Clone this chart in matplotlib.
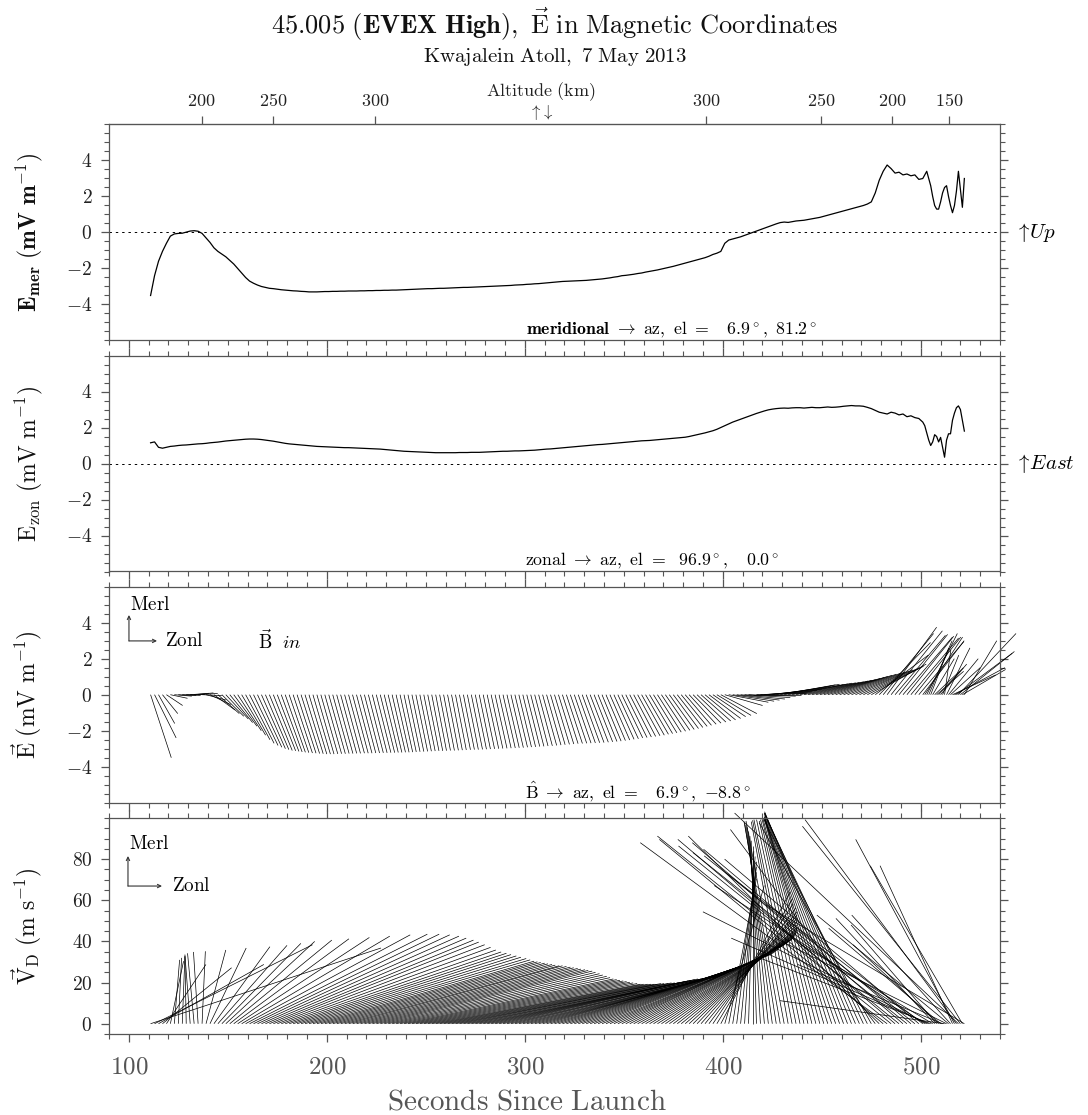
import numpy as np
import matplotlib
matplotlib.use("Agg")
import matplotlib.pyplot as plt
from matplotlib.collections import LineCollection
from matplotlib.ticker import MultipleLocator, FuncFormatter, NullLocator

plt.rcParams['mathtext.fontset'] = 'cm'
plt.rcParams['font.family'] = ['cmr10', 'DejaVu Serif']
plt.rcParams['axes.formatter.use_mathtext'] = True

# --- data -------------------------------------------------------------------
# sample times (s since launch): every 2 s, then every 1 s near the end
t_coarse = np.arange(111, 500, 2)
t_fine = np.arange(501, 523)
t = np.concatenate([t_coarse, t_fine])

# meridional E field (mV/m)
e_mer = [
    -3.5, -2.4, -1.6, -1.05, -0.6, -0.2, -0.08, -0.05, -0.04, 0.02,
    0.08, 0.1, 0.07, -0.05, -0.3, -0.55, -0.85, -1.05, -1.2, -1.35,
    -1.55, -1.75, -2.0, -2.25, -2.5, -2.7, -2.82, -2.92, -3.0, -3.05,
    -3.1, -3.12, -3.15, -3.18, -3.2, -3.22, -3.24, -3.25, -3.27, -3.28,
    -3.3, -3.3, -3.3, -3.29, -3.28, -3.28, -3.27, -3.27, -3.26, -3.26,
    -3.25, -3.25, -3.25, -3.24, -3.24, -3.23, -3.23, -3.22, -3.22, -3.21,
    -3.21, -3.2, -3.2, -3.19, -3.18, -3.17, -3.16, -3.15, -3.14, -3.13,
    -3.12, -3.12, -3.11, -3.1, -3.1, -3.09, -3.08, -3.07, -3.06, -3.05,
    -3.05, -3.04, -3.03, -3.02, -3.01, -3.0, -2.99, -2.98, -2.97, -2.96,
    -2.95, -2.94, -2.92, -2.91, -2.9, -2.88, -2.87, -2.85, -2.84, -2.82,
    -2.8, -2.78, -2.76, -2.74, -2.72, -2.71, -2.7, -2.69, -2.68, -2.67,
    -2.66, -2.64, -2.62, -2.6, -2.58, -2.55, -2.52, -2.48, -2.45, -2.4,
    -2.38, -2.35, -2.32, -2.28, -2.25, -2.2, -2.16, -2.12, -2.08, -2.03,
    -1.98, -1.93, -1.88, -1.82, -1.76, -1.7, -1.64, -1.58, -1.52, -1.46,
    -1.4, -1.32, -1.22, -1.15, -1.05, -0.6, -0.42, -0.36, -0.3, -0.24,
    -0.16, -0.08, 0.0, 0.08, 0.16, 0.24, 0.32, 0.4, 0.48, 0.55,
    0.58, 0.56, 0.6, 0.64, 0.66, 0.68, 0.72, 0.76, 0.8, 0.84,
    0.9, 0.96, 1.02, 1.08, 1.14, 1.2, 1.26, 1.32, 1.38, 1.44,
    1.5, 1.58, 1.7, 2.2, 2.9, 3.4, 3.75, 3.55, 3.3, 3.35,
    3.2, 3.25, 3.15, 3.2, 2.95,
    3.0, 3.2, 3.4, 3.0, 2.6, 2.0, 1.5, 1.3, 1.3, 1.7,
    2.2, 2.5, 2.6, 2.0, 1.5, 1.1, 1.5, 2.3, 3.4, 2.4,
    1.4, 3.0,
]

# zonal E field (mV/m)
e_zon = [
    1.15, 1.2, 0.9, 0.85, 0.9, 0.95, 0.97, 1.0, 1.02, 1.03,
    1.05, 1.07, 1.09, 1.1, 1.12, 1.15, 1.17, 1.19, 1.22, 1.25,
    1.27, 1.29, 1.31, 1.33, 1.35, 1.36, 1.36, 1.35, 1.33, 1.3,
    1.27, 1.24, 1.2, 1.16, 1.12, 1.09, 1.07, 1.05, 1.03, 1.01,
    0.99, 0.97, 0.95, 0.94, 0.93, 0.92, 0.91, 0.9, 0.89, 0.88,
    0.88, 0.87, 0.86, 0.85, 0.84, 0.83, 0.82, 0.81, 0.8, 0.78,
    0.76, 0.74, 0.72, 0.7, 0.68, 0.67, 0.66, 0.65, 0.64, 0.63,
    0.62, 0.61, 0.6, 0.6, 0.6, 0.6, 0.6, 0.6, 0.61, 0.61,
    0.61, 0.62, 0.62, 0.62, 0.63, 0.64, 0.65, 0.66, 0.67, 0.68,
    0.68, 0.69, 0.7, 0.7, 0.71, 0.72, 0.73, 0.74, 0.76, 0.78,
    0.8, 0.81, 0.83, 0.85, 0.87, 0.89, 0.91, 0.93, 0.95, 0.97,
    0.99, 1.01, 1.03, 1.05, 1.06, 1.08, 1.1, 1.12, 1.14, 1.16,
    1.18, 1.2, 1.22, 1.24, 1.26, 1.27, 1.28, 1.3, 1.32, 1.34,
    1.36, 1.38, 1.4, 1.42, 1.44, 1.46, 1.5, 1.55, 1.6, 1.65,
    1.7, 1.76, 1.82, 1.9, 2.0, 2.1, 2.2, 2.3, 2.38, 2.46,
    2.54, 2.62, 2.7, 2.78, 2.85, 2.92, 2.98, 3.02, 3.05, 3.07,
    3.08, 3.07, 3.09, 3.1, 3.1, 3.08, 3.1, 3.12, 3.1, 3.1,
    3.12, 3.14, 3.12, 3.13, 3.15, 3.18, 3.2, 3.22, 3.2, 3.2,
    3.18, 3.12, 3.05, 2.95, 2.85, 2.8, 2.75, 2.85, 2.8, 2.7,
    2.75, 2.6, 2.65, 2.55, 2.5,
    2.3, 2.1, 1.7, 1.3, 1.0, 1.2, 1.6, 1.5, 1.2, 1.45,
    0.9, 0.35, 1.3, 1.65, 1.65, 2.4, 2.8, 3.1, 3.2, 3.0,
    2.4, 1.8,
]

# drift speed per unit field, m/s per mV/m (|B| ~ 31 uT)
drift_per_field = 32.0

# altitude axis (top of first panel)
alt_times = [136.8, 172.7, 224.2, 391.4, 449.6, 485.4, 514.4]
alt_labels = ['200', '250', '300', '300', '250', '200', '150']
apogee_time = 308.3

e_mer = np.array(e_mer)
e_zon = np.array(e_zon)
v_zon = -drift_per_field * e_mer
v_mer = drift_per_field * e_zon

# --- figure ---------------------------------------------------------------
W, H = 1088, 1115
fig = plt.figure(figsize=(W / 100, H / 100), dpi=100)
gray = '#555555'
left, width = 109 / W, 891 / W
h_px = 216
tops = [124.5, 355.5, 586.7, 818.0]
xlim = (90, 540)

def num(v, p=None):
    return f"${v:g}$"

axes = []
for top in tops:
    ax = fig.add_axes([left, 1 - (top + h_px) / H, width, h_px / H])
    ax.set_xlim(*xlim)
    for s in ax.spines.values():
        s.set_color(gray)
        s.set_linewidth(0.9)
    ax.xaxis.set_major_locator(MultipleLocator(100))
    ax.xaxis.set_minor_locator(MultipleLocator(10))
    ax.tick_params(axis='both', which='both', direction='out', colors=gray,
                   right=True, top=True, labelbottom=False)
    ax.tick_params(which='major', length=6, width=0.9)
    ax.tick_params(which='minor', length=3.5, width=0.8)
    ax.tick_params(axis='y', labelsize=14, labelcolor='#222222', pad=6)
    ax.yaxis.set_major_formatter(FuncFormatter(num))
    axes.append(ax)

ax1, ax2, ax3, ax4 = axes
for ax in (ax1, ax2, ax3):
    ax.set_ylim(-6, 6)
    ax.set_yticks([-4, -2, 0, 2, 4])
    ax.yaxis.set_minor_locator(MultipleLocator(0.5))
ax4.set_ylim(-5, 100)
ax4.set_yticks([0, 20, 40, 60, 80])
ax4.yaxis.set_minor_locator(MultipleLocator(5))

zero_ls = (0, (2.5, 4))

# panel 1: meridional
ax1.tick_params(axis='x', which='both', top=False)
ax1.plot(t, e_mer, color='k', lw=0.9)
ax1.axhline(0, color='k', lw=0.7, ls=zero_ls)
sec = ax1.secondary_xaxis('top')
sec.set_xticks(alt_times, labels=[f"${s}$" for s in alt_labels])
sec.xaxis.set_minor_locator(NullLocator())
sec.tick_params(direction='out', length=6, width=0.9, colors=gray,
                labelsize=13, labelcolor='#222222', pad=5)
sec.spines['top'].set_color(gray)
x_apo = (apogee_time - xlim[0]) / (xlim[1] - xlim[0]) * width + left
fig.text(x_apo, 1 - 112 / H, r'$\uparrow\!\downarrow$', ha='center',
         va='center', fontsize=12, color='#222222')
fig.text(x_apo, 1 - 92 / H, r'$\mathrm{Altitude\ (km)}$', ha='center',
         va='center', fontsize=13, color='#222222')

# panel 2: zonal
ax2.plot(t, e_zon, color='k', lw=0.9)
ax2.axhline(0, color='k', lw=0.7, ls=zero_ls)

ax1.text(1.017, 0, r'$\uparrow\!Up$', transform=ax1.get_yaxis_transform(),
         ha='left', va='center', fontsize=15)
ax2.text(1.017, 0, r'$\uparrow\!East$', transform=ax2.get_yaxis_transform(),
         ha='left', va='center', fontsize=15)

# isotropic stick scaling (seconds per unit of y)
def stick_scale(ax):
    pos = ax.get_position()
    px_per_y = pos.height * H / np.diff(ax.get_ylim())[0]
    px_per_s = pos.width * W / np.diff(ax.get_xlim())[0]
    return px_per_y / px_per_s

# panel 3: E sticks
k3 = stick_scale(ax3)
segs3 = [[(ti, 0), (ti + k3 * ez, em)] for ti, ez, em in zip(t, e_zon, e_mer)]
lc3 = LineCollection(segs3, colors='k', linewidths=0.5)
lc3.set_clip_on(False)
ax3.add_collection(lc3)

# panel 4: drift velocity sticks
k4 = stick_scale(ax4)
segs4 = [[(ti, 0), (ti + k4 * vz, vm)] for ti, vz, vm in zip(t, v_zon, v_mer)]
lc4 = LineCollection(segs4, colors='k', linewidths=0.5)
lc4.set_clip_on(False)
ax4.add_collection(lc4)

# component legends
def merl_zonl(ax, x0, y0, y1, x1, ymer, xz):
    ap = dict(arrowstyle='->', lw=0.8, color='#333333', shrinkA=0, shrinkB=0,
              mutation_scale=6)
    ax.annotate('', xy=(x0, y1), xytext=(x0, y0), xycoords='axes fraction',
                arrowprops=ap)
    ax.annotate('', xy=(x1, y0), xytext=(x0, y0), xycoords='axes fraction',
                arrowprops=ap)
    ax.text(x0 + 0.001, ymer, r'$\mathrm{Merl}$', transform=ax.transAxes,
            ha='left', va='center', fontsize=13.8)
    ax.text(xz, y0, r'$\mathrm{Zonl}$', transform=ax.transAxes,
            ha='left', va='center', fontsize=13.8)

merl_zonl(ax3, 0.0224, 0.749, 0.869, 0.0539, 0.915, 0.0628)
ax3.text(0.167, 0.75, r'$\vec{\mathrm{B}}\ \ in$', transform=ax3.transAxes,
         ha='left', va='center', fontsize=13.5)
merl_zonl(ax4, 0.0213, 0.685, 0.824, 0.0595, 0.88, 0.0707)

# direction captions
cap_fs = 12.8
ax1.text(0.468, 0.05,
         r'$\mathbf{meridional}\ \rightarrow\ \mathrm{az,\ el\ =\ \ \ 6.9^\circ,\ 81.2^\circ}$',
         transform=ax1.transAxes, ha='left', va='center', fontsize=cap_fs)
ax2.text(0.467, 0.05,
         r'$\mathrm{zonal}\ \rightarrow\ \mathrm{az,\ el\ =\ \ 96.9^\circ,\ \ \ 0.0^\circ}$',
         transform=ax2.transAxes, ha='left', va='center', fontsize=cap_fs)
ax3.text(0.467, 0.05,
         r'$\hat{\mathrm{B}}\ \rightarrow\ \mathrm{az,\ el\ =\ \ \ 6.9^\circ,\ {-}8.8^\circ}$',
         transform=ax3.transAxes, ha='left', va='center', fontsize=cap_fs)

# axis labels
ylabels = [r'$\mathbf{E_{mer}\ (mV\ m^{-1})}$',
           r'$\mathrm{E_{zon}\ (mV\ m^{-1})}$',
           r'$\vec{\mathrm{E}}\ \mathrm{(mV\ m^{-1})}$',
           r'$\vec{\mathrm{V}}_{\mathrm{D}}\ \mathrm{(m\ s^{-1})}$']
for ax, lab in zip(axes, ylabels):
    ax.set_ylabel(lab, fontsize=17, color='#111111')
    ax.yaxis.set_label_coords(-0.072, 0.5)

ax4.tick_params(axis='x', labelbottom=True, labelsize=18, labelcolor=gray,
                pad=10)
ax4.xaxis.set_major_formatter(FuncFormatter(num))
fig.text(527 / W, 1 - 1102 / H, r'$\mathrm{Seconds\ Since\ Launch}$',
         ha='center', va='center', fontsize=21, color=gray)

# titles
cx = left + width / 2
fig.text(cx, 1 - 24 / H,
         r'$\mathbf{45.005\ (EVEX\ High)},\ \vec{\mathrm{E}}\ \mathrm{in\ Magnetic\ Coordinates}$',
         ha='center', va='center', fontsize=19, color='#111111')
fig.text(cx, 1 - 57 / H, r'$\mathrm{Kwajalein\ Atoll,\ 7\ May\ 2013}$',
         ha='center', va='center', fontsize=15, color='#111111')

fig.savefig('out.png', dpi=100)
